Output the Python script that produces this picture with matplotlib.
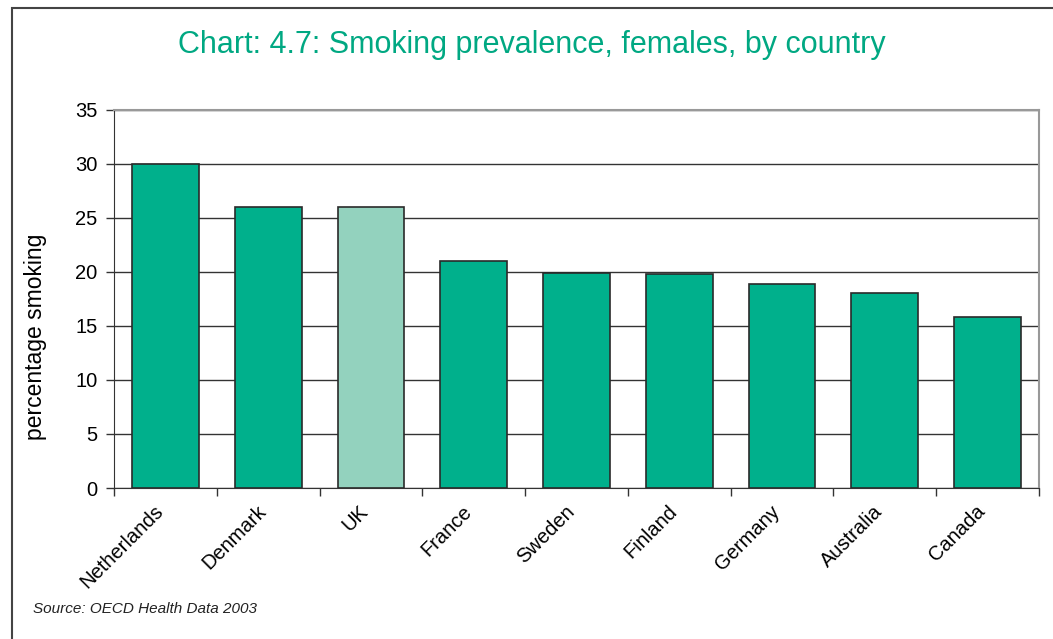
import matplotlib
matplotlib.use('Agg')
import matplotlib.pyplot as plt
import matplotlib.transforms as mtransforms
from matplotlib.patches import Rectangle
import numpy as np

plt.rcParams['font.family'] = ['Liberation Sans', 'DejaVu Sans']

# data
countries = ['Netherlands', 'Denmark', 'UK', 'France', 'Sweden',
             'Finland', 'Germany', 'Australia', 'Canada']
smoking = [30.0, 26.0, 26.0, 21.0, 19.9, 19.8, 18.9, 18.1, 15.8]
highlight = 'UK'

green = '#00B08C'
light = '#93D2BE'

fig = plt.figure(figsize=(10.53, 6.39), dpi=100)
ax = fig.add_axes([0.1083, 0.2363, 0.8784, 0.5916])

x = np.arange(len(countries))
colors = [light if c == highlight else green for c in countries]
ax.bar(x, smoking, width=0.65, color=colors, edgecolor='#2a2a2a',
       linewidth=1.2, zorder=3)

ax.set_xlim(-0.5, len(countries) - 0.5)
ax.set_ylim(0, 35)
ax.set_yticks(range(0, 36, 5))
ax.yaxis.grid(True, color='#333333', linewidth=1.0, zorder=0)

# category labels, ticks sit between the bars
ax.set_xticks(x)
ax.set_xticklabels(countries, rotation=45, ha='right', rotation_mode='anchor',
                   fontsize=14.5)
ax.tick_params(axis='x', length=0, pad=10)
shift = mtransforms.ScaledTranslation(-12 / 100, 0, fig.dpi_scale_trans)
for lab in ax.get_xticklabels():
    lab.set_transform(lab.get_transform() + shift)
ax.set_xticks(np.arange(-0.5, len(countries), 1), minor=True)
ax.tick_params(axis='x', which='minor', length=6, width=1, color='#333333')
ax.tick_params(axis='y', length=6, width=1, color='#333333', labelsize=14.5,
               pad=6)

for s in ['top', 'right']:
    ax.spines[s].set_color('#999999')
    ax.spines[s].set_linewidth(1.5)
ax.spines['left'].set_color('#333333')
ax.spines['bottom'].set_color('#333333')

ax.set_ylabel('percentage smoking', fontsize=16.5)
ax.yaxis.set_label_coords(-0.072, 0.4)

fig.text(0.505, 0.929, 'Chart: 4.7: Smoking prevalence, females, by country',
         ha='center', va='center', fontsize=22, color='#00A882')
fig.text(0.031, 0.040, 'Source: OECD Health Data 2003', fontsize=11,
         style='italic', color='#222222')

# outer chart frame (runs off the right/bottom edge like the original)
top = 1 - 7.5 / 639
fig.patches.append(Rectangle((12 / 1053, -0.05), 1.2, top + 0.05,
                             transform=fig.transFigure, fill=False,
                             edgecolor='#444444', linewidth=1.5))

fig.savefig('out.png', dpi=100)
